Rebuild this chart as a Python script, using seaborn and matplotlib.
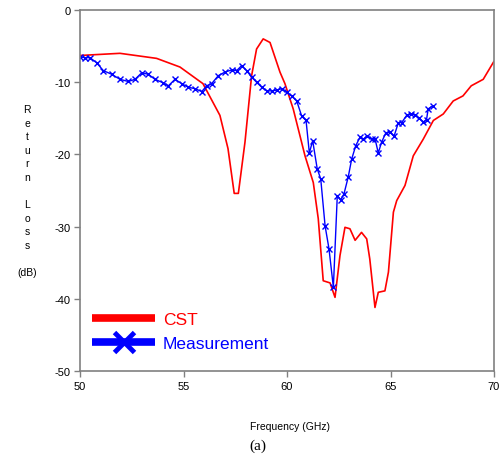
import matplotlib
matplotlib.use("Agg")
import matplotlib.pyplot as plt
from matplotlib.lines import Line2D
import numpy as np
import pandas as pd
import seaborn as sns

# Simulated return loss (CST)
cst_freq = [50.0, 51.93, 53.70, 54.83, 55.94, 56.76, 57.15, 57.45, 57.65, 57.97,
            58.29, 58.53, 58.85, 59.18, 59.66, 59.9, 60.3, 60.87, 61.27, 61.51,
            61.75, 62.08, 62.32, 62.56, 62.80, 63.04, 63.29, 63.6, 63.85, 64.0,
            64.25, 64.41, 64.73, 64.9, 65.14, 65.3, 65.7, 66.1, 66.58, 67.07,
            67.55, 68.03, 68.5, 68.9, 69.48, 70.0]
cst_rl = [-6.3, -6.0, -6.7, -7.9, -10.2, -14.6, -19.2, -25.4, -25.4, -18.3,
          -9.1, -5.4, -4.0, -4.5, -8.6, -10.2, -13.7, -20.2, -23.9, -28.9,
          -37.5, -37.8, -39.8, -34.0, -30.1, -30.3, -31.9, -30.8, -31.7, -34.5,
          -41.2, -39.1, -38.9, -36.3, -28.0, -26.4, -24.3, -20.2, -17.9, -15.3,
          -14.4, -12.6, -11.9, -10.5, -9.6, -7.1]

# Measured return loss
meas_freq = [50.0, 50.24, 50.48, 50.8, 51.13, 51.53, 51.93, 52.33, 52.66, 52.98,
             53.3, 53.62, 54.03, 54.27, 54.59, 54.91, 55.23, 55.56, 55.88, 56.12,
             56.36, 56.68, 57.0, 57.33, 57.57, 57.81, 58.05, 58.29, 58.53, 58.78,
             59.02, 59.26, 59.5, 59.74, 59.98, 60.22, 60.47, 60.71, 60.92, 61.08,
             61.24, 61.46, 61.63, 61.84, 62.03, 62.24, 62.43, 62.59, 62.75, 62.96,
             63.12, 63.32, 63.53, 63.69, 63.88, 64.09, 64.25, 64.41, 64.57, 64.78,
             64.98, 65.17, 65.38, 65.54, 65.78, 65.97, 66.18, 66.39, 66.58, 66.74,
             66.82, 67.03]
meas_rl = [-6.5, -6.6, -6.6, -7.3, -8.4, -8.9, -9.6, -9.9, -9.6, -8.7,
           -8.9, -9.6, -10.1, -10.5, -9.6, -10.2, -10.7, -10.9, -11.3, -10.5,
           -10.2, -9.1, -8.6, -8.3, -8.4, -7.7, -8.4, -9.3, -10.0, -10.7,
           -11.2, -11.2, -11.1, -10.9, -11.4, -11.9, -12.6, -14.7, -15.3, -19.8,
           -18.1, -22.0, -23.4, -29.9, -33.1, -38.4, -25.7, -26.3, -25.5, -23.1,
           -20.7, -18.8, -17.6, -17.9, -17.4, -17.9, -17.8, -19.8, -18.3, -17.0,
           -16.9, -17.5, -15.6, -15.6, -14.6, -14.4, -14.5, -15.0, -15.5, -15.2,
           -13.7, -13.3]

x_ticks = [50, 55, 60, 65, 70]
y_ticks = [0, -10, -20, -30, -40, -50]

sns.set_style("white")
plt.rcParams["font.family"] = ["Liberation Sans", "DejaVu Sans"]
plt.rcParams["axes.unicode_minus"] = False

fig = plt.figure(figsize=(5.03, 4.56), dpi=100)
ax = fig.add_axes([80 / 503, 1 - 372 / 456, 414 / 503, 361 / 456])

cst_df = pd.DataFrame({"freq": cst_freq, "rl": cst_rl})
meas_df = pd.DataFrame({"freq": meas_freq, "rl": meas_rl})

sns.lineplot(data=cst_df, x="freq", y="rl", ax=ax, color="#ff0000",
             linewidth=1.2, sort=False, estimator=None)
sns.lineplot(data=meas_df, x="freq", y="rl", ax=ax, color="#0000ff",
             linewidth=1.0, marker="x", markersize=4.5, markeredgewidth=1.0,
             markeredgecolor="#0000ff", sort=False, estimator=None)

ax.set_xlim(50, 70)
ax.set_ylim(-50, 0)
ax.set_xticks(x_ticks)
ax.set_yticks(y_ticks)
ax.set_xlabel("")
ax.set_ylabel("")
ax.tick_params(axis="both", direction="out", length=4, width=1, color="#808080",
               labelsize=8, labelcolor="black", pad=3)
ax.tick_params(axis="both", which="both", left=True, bottom=True)
for side in ax.spines.values():
    side.set_color("#808080")
    side.set_linewidth(1.2)
    side.set_visible(True)

handles = [
    Line2D([], [], color="#ff0000", linewidth=5.5, solid_capstyle="butt"),
    Line2D([], [], color="#0000ff", linewidth=5.5, solid_capstyle="butt",
           marker="x", markersize=14, markeredgewidth=3.5,
           markeredgecolor="#0000ff"),
]
leg = ax.legend(handles, ["CST", "Measurement"], loc="center left",
                bbox_to_anchor=(0.03, 0.11), frameon=False, fontsize=12.5,
                handlelength=3.6, handletextpad=0.45, labelspacing=0.52,
                borderpad=0, borderaxespad=0)
for txt, col in zip(leg.get_texts(), ["#ff0000", "#0000ff"]):
    txt.set_color(col)

# Vertical stacked y-axis title
letters = ["R", "e", "t", "u", "r", "n", "", "L", "o", "s", "s", "", "(dB)"]
y0 = 1 - 110 / 456
step = 13.6 / 456
for i, ch in enumerate(letters):
    if ch:
        fig.text(27 / 503, y0 - i * step, ch, ha="center", va="center",
                 fontsize=7.5, color="black")

fig.text(290 / 503, 1 - 427 / 456, "Frequency (GHz)", ha="center", va="center",
         fontsize=7.5, color="black")
fig.text(258 / 503, 1 - 446 / 456, "(a)", ha="center", va="center",
         fontsize=11, family=["Liberation Serif", "DejaVu Serif"], color="black")

fig.savefig("out.png", dpi=100)
